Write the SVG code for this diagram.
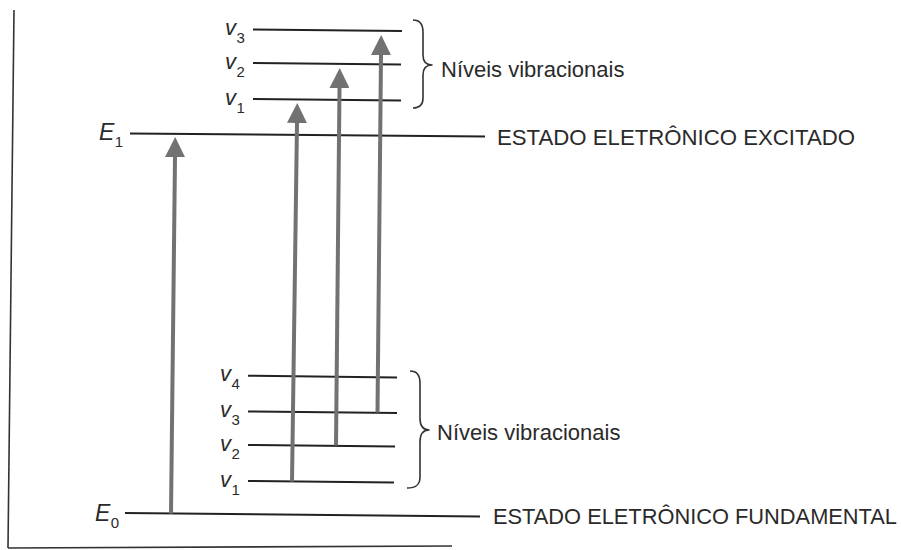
<svg xmlns="http://www.w3.org/2000/svg" width="901" height="550" viewBox="0 0 901 550">
<style>
  .lvl { stroke: #222; stroke-width: 2; fill: none; }
  .frame { stroke: #333; stroke-width: 1.6; fill: none; }
  .brace { stroke: #333; stroke-width: 1.6; fill: none; stroke-linejoin: round; }
  .arrow { stroke: #727272; stroke-width: 4; fill: none; marker-end: url(#head); }
  .lab { font-family: "Liberation Sans", Arial, sans-serif; font-style: italic; font-size: 22px; fill: #2a2a2a; }
  .elab { font-size: 23px; }
  .sub { font-size: 15px; font-style: normal; }
  .state { font-family: "Liberation Sans", Arial, sans-serif; font-size: 22px; fill: #2a2a2a; }
  .note { font-family: "Liberation Sans", Arial, sans-serif; font-size: 22px; fill: #2a2a2a; }
</style>
<defs>
  <marker id="head" markerUnits="userSpaceOnUse" viewBox="0 0 20 20" markerWidth="20" markerHeight="20" refX="0" refY="10" orient="auto">
    <path d="M0,0 L20,10 L0,20 Z" fill="#727272"/>
  </marker>
</defs>
<rect width="901" height="550" fill="#ffffff"/>

<g id="frame">
  <line class="frame" x1="14" y1="10" x2="8" y2="548"/>
  <line class="frame" x1="8" y1="548" x2="452" y2="546"/>
</g>

<g id="excited-state">
  <line class="lvl" x1="130" y1="133.5" x2="485" y2="136.5"/>
  <text class="lab elab" x="99" y="140">E<tspan class="sub" dx="0.5" dy="7">1</tspan></text>
  <text class="state" x="497" y="145" textLength="358" lengthAdjust="spacingAndGlyphs">ESTADO ELETRÔNICO EXCITADO</text>
</g>

<g id="ground-state">
  <line class="lvl" x1="125" y1="513" x2="480" y2="516.5"/>
  <text class="lab elab" x="95" y="521">E<tspan class="sub" dx="0.5" dy="7">0</tspan></text>
  <text class="state" x="493" y="524" textLength="404" lengthAdjust="spacingAndGlyphs">ESTADO ELETRÔNICO FUNDAMENTAL</text>
</g>

<g id="upper-vibrational">
  <line class="lvl" x1="253" y1="29.5" x2="402" y2="31"/>
  <line class="lvl" x1="253" y1="63" x2="401" y2="64.5"/>
  <line class="lvl" x1="253" y1="99" x2="401" y2="100.5"/>
  <text class="lab" x="225" y="35">v<tspan class="sub" dx="0.5" dy="8">3</tspan></text>
  <text class="lab" x="225" y="69">v<tspan class="sub" dx="0.5" dy="8">2</tspan></text>
  <text class="lab" x="225" y="105">v<tspan class="sub" dx="0.5" dy="8">1</tspan></text>
  <path class="brace" d="M413,20 C420,20 423,24 423,32 L423,55 C423,62 426,65 432,65 C426,65 423,68 423,75 L423,98 C423,105 420,108 413,108"/>
  <text class="note" x="441" y="77">Níveis vibracionais</text>
</g>

<g id="lower-vibrational">
  <line class="lvl" x1="248" y1="375.7" x2="397" y2="377.5"/>
  <line class="lvl" x1="248" y1="411.5" x2="397" y2="413"/>
  <line class="lvl" x1="248" y1="445" x2="395" y2="446.5"/>
  <line class="lvl" x1="248" y1="481" x2="394" y2="482.5"/>
  <text class="lab" x="220" y="381">v<tspan class="sub" dx="0.5" dy="8">4</tspan></text>
  <text class="lab" x="220" y="417">v<tspan class="sub" dx="0.5" dy="8">3</tspan></text>
  <text class="lab" x="220" y="451">v<tspan class="sub" dx="0.5" dy="8">2</tspan></text>
  <text class="lab" x="220" y="487">v<tspan class="sub" dx="0.5" dy="8">1</tspan></text>
  <path class="brace" d="M410,371 C417,371 420,375 420,383 L420,418 C420,426 423,430 429,430 C423,430 420,434 420,442 L420,477 C420,485 416,488 407,488"/>
  <text class="note" x="437" y="440">Níveis vibracionais</text>
</g>

<g id="connectors">
  <line class="arrow" x1="171" y1="513.5" x2="175" y2="157"/>
  <line class="arrow" x1="292" y1="481.5" x2="297" y2="123"/>
  <line class="arrow" x1="336" y1="445.5" x2="339.5" y2="88"/>
  <line class="arrow" x1="377.5" y1="412.5" x2="381" y2="55"/>
</g>
</svg>
